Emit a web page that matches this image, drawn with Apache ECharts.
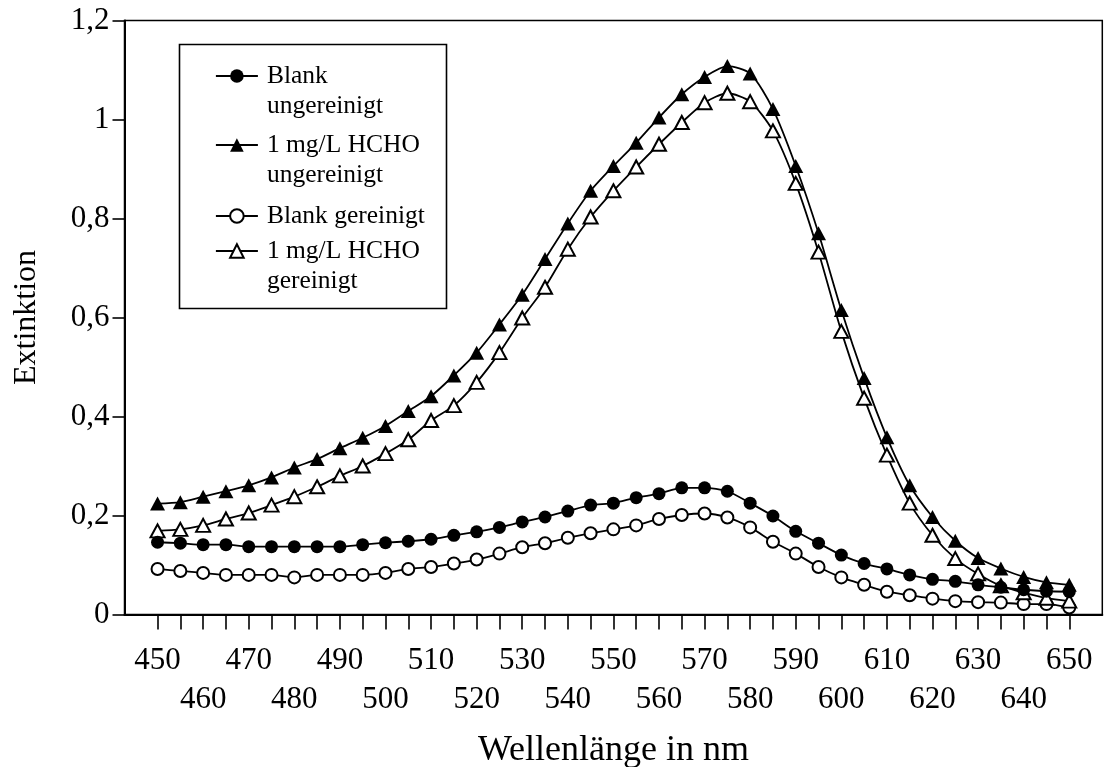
<!DOCTYPE html>
<html>
<head>
<meta charset="utf-8">
<script src="https://cdn.jsdelivr.net/npm/echarts@6/dist/echarts.min.js"></script>
<style>
  html, body { margin: 0; padding: 0; background: #fff; }
  #chart { width: 1104px; height: 767px; }
</style>
</head>
<body>
<div id="chart"></div>
<script>
// Wavelength grid (nm), one reading every 5 nm
const wavelengths = [450, 455, 460, 465, 470, 475, 480, 485, 490, 495,
                     500, 505, 510, 515, 520, 525, 530, 535, 540, 545,
                     550, 555, 560, 565, 570, 575, 580, 585, 590, 595,
                     600, 605, 610, 615, 620, 625, 630, 635, 640, 645, 650];

// Extinction readings
const blankUngereinigt = [0.146, 0.144, 0.141, 0.141, 0.137, 0.137, 0.137, 0.137, 0.137, 0.141,
                          0.145, 0.148, 0.152, 0.160, 0.167, 0.176, 0.187, 0.197, 0.209, 0.221,
                          0.225, 0.236, 0.244, 0.256, 0.256, 0.249, 0.225, 0.199, 0.168, 0.144,
                          0.120, 0.103, 0.092, 0.080, 0.071, 0.067, 0.060, 0.055, 0.050, 0.047, 0.046];

const hchoUngereinigt = [0.224, 0.227, 0.238, 0.249, 0.261, 0.277, 0.297, 0.314, 0.336, 0.357,
                         0.381, 0.411, 0.441, 0.483, 0.529, 0.586, 0.646, 0.718, 0.790, 0.856,
                         0.906, 0.953, 1.004, 1.051, 1.086, 1.108, 1.093, 1.021, 0.906, 0.770,
                         0.615, 0.478, 0.358, 0.261, 0.197, 0.149, 0.114, 0.093, 0.076, 0.065, 0.060];

const blankGereinigt = [0.092, 0.088, 0.084, 0.080, 0.080, 0.080, 0.075, 0.080, 0.080, 0.080,
                        0.084, 0.092, 0.096, 0.103, 0.111, 0.123, 0.136, 0.144, 0.155, 0.164,
                        0.172, 0.180, 0.193, 0.201, 0.204, 0.196, 0.176, 0.147, 0.123, 0.096,
                        0.075, 0.060, 0.046, 0.039, 0.032, 0.027, 0.025, 0.024, 0.021, 0.021, 0.014];

const hchoGereinigt = [0.169, 0.172, 0.180, 0.193, 0.205, 0.221, 0.238, 0.258, 0.280, 0.300,
                       0.325, 0.353, 0.392, 0.422, 0.469, 0.529, 0.599, 0.661, 0.738, 0.803,
                       0.856, 0.904, 0.950, 0.994, 1.034, 1.053, 1.036, 0.977, 0.871, 0.732,
                       0.572, 0.437, 0.322, 0.225, 0.160, 0.113, 0.082, 0.058, 0.044, 0.033, 0.027];

// Axis ticks and labels (labels alternate between two rows)
const xTickValues = [450, 455, 460, 465, 470, 475, 480, 485, 490, 495,
                     500, 505, 510, 515, 520, 525, 530, 535, 540, 545,
                     550, 555, 560, 565, 570, 575, 580, 585, 590, 595,
                     600, 605, 610, 615, 620, 625, 630, 635, 640, 645, 650];
const xLabelsUpper = [450, 470, 490, 510, 530, 550, 570, 590, 610, 630, 650];
const xLabelsLower = [460, 480, 500, 520, 540, 560, 580, 600, 620, 640];

const seriesNames = ['Blank ungereinigt', '1 mg/L HCHO ungereinigt', 'Blank gereinigt', '1 mg/L HCHO gereinigt'];
// Leading empty line keeps the first text line level with the legend icon
const legendLines = {
  'Blank ungereinigt': '\nBlank\nungereinigt',
  '1 mg/L HCHO ungereinigt': '\n1 mg/L HCHO\nungereinigt',
  'Blank gereinigt': 'Blank gereinigt',
  '1 mg/L HCHO gereinigt': '\n1 mg/L HCHO\ngereinigt'
};

const FONT = '"Liberation Serif", "Times New Roman", serif';
const X_MIN = 442.75;
const X_MAX = 657.25;

function lineSeries(name, values, symbol, size, z) {
  return {
    type: 'line',
    name: name,
    xAxisIndex: 0,
    data: wavelengths.map((w, i) => [w, values[i]]),
    symbol: symbol,
    symbolSize: size,
    showSymbol: true,
    smooth: 0.25,
    z: z,
    lineStyle: { color: '#000', width: 1.8 },
    itemStyle: { color: '#000' },
    emphasis: { disabled: true },
    animation: false
  };
}

// One legend block per entry
function legendBlock(name, top) {
  return {
    show: true,
    data: [name],
    orient: 'vertical',
    left: 215,
    top: top,
    padding: 0,
    itemWidth: 42,
    itemHeight: 17,
    selectedMode: false,
    formatter: n => legendLines[n],
    lineStyle: { width: 1.8 },
    textStyle: {
      fontFamily: FONT,
      fontSize: 25.5,
      color: '#000',
      lineHeight: 30,
      padding: [0, 0, 0, 4]
    }
  };
}

function tickLabelStyle(values, margin) {
  return {
    customValues: values,
    showMinLabel: true,
    showMaxLabel: true,
    hideOverlap: false,
    margin: margin,
    fontFamily: FONT,
    fontSize: 31,
    color: '#000',
    lineHeight: 40
  };
}

const chart = echarts.init(document.getElementById('chart'), null, { renderer: 'canvas' });

chart.setOption({
  backgroundColor: '#fff',
  animation: false,
  grid: {
    left: 124.5,
    right: 1.7,
    top: 20.5,
    bottom: 152.5,
    containLabel: false,
    outerBoundsMode: 'none',
    show: true,
    borderColor: '#000',
    borderWidth: 1.5,
    backgroundColor: 'transparent'
  },
  xAxis: [
    {
      type: 'value',
      position: 'bottom',
      min: X_MIN,
      max: X_MAX,
      name: 'Wellenlänge in nm',
      nameLocation: 'middle',
      nameGap: 118,
      nameTextStyle: { fontFamily: FONT, fontSize: 36, color: '#000' },
      axisLine: { show: true, onZero: false, lineStyle: { color: '#000', width: 2 } },
      axisTick: { show: true, inside: false, length: 15, customValues: xTickValues,
                  lineStyle: { color: '#000', width: 1.6 } },
      axisLabel: tickLabelStyle(xLabelsUpper, 26),
      splitLine: { show: false }
    },
    {
      type: 'value',
      position: 'bottom',
      offset: 0,
      min: X_MIN,
      max: X_MAX,
      axisLine: { show: false, onZero: false },
      axisTick: { show: false },
      axisLabel: tickLabelStyle(xLabelsLower, 65),
      splitLine: { show: false }
    }
  ],
  yAxis: {
    type: 'value',
    min: 0,
    max: 1.2,
    interval: 0.2,
    name: 'Extinktion',
    nameLocation: 'middle',
    nameRotate: 90,
    nameGap: 82,
    nameTextStyle: { fontFamily: FONT, fontSize: 32, color: '#000' },
    axisLine: { show: true, lineStyle: { color: '#000', width: 2 } },
    axisTick: { show: true, inside: false, length: 12, lineStyle: { color: '#000', width: 1.6 } },
    axisLabel: {
      margin: 15,
      showMinLabel: true,
      showMaxLabel: true,
      fontFamily: FONT,
      fontSize: 31,
      color: '#000',
      formatter: v => String(Math.round(v * 10) / 10).replace('.', ',')
    },
    splitLine: { show: false }
  },
  legend: [
    legendBlock(seriesNames[0], 31),
    legendBlock(seriesNames[1], 100),
    legendBlock(seriesNames[2], 201),
    legendBlock(seriesNames[3], 206)
  ],
  graphic: [
    {
      type: 'rect',
      left: 177,
      top: 42,
      shape: { width: 267, height: 264 },
      style: { fill: 'none', stroke: '#000', lineWidth: 1.6 },
      z: 0
    }
  ],
  series: [
    lineSeries(seriesNames[0], blankUngereinigt, 'circle', 13, 3),
    lineSeries(seriesNames[1], hchoUngereinigt, 'triangle', [15, 14], 4),
    lineSeries(seriesNames[2], blankGereinigt, 'emptyCircle', 12, 2),
    lineSeries(seriesNames[3], hchoGereinigt, 'emptyTriangle', [14, 13], 2)
  ]
});
</script>
</body>
</html>
